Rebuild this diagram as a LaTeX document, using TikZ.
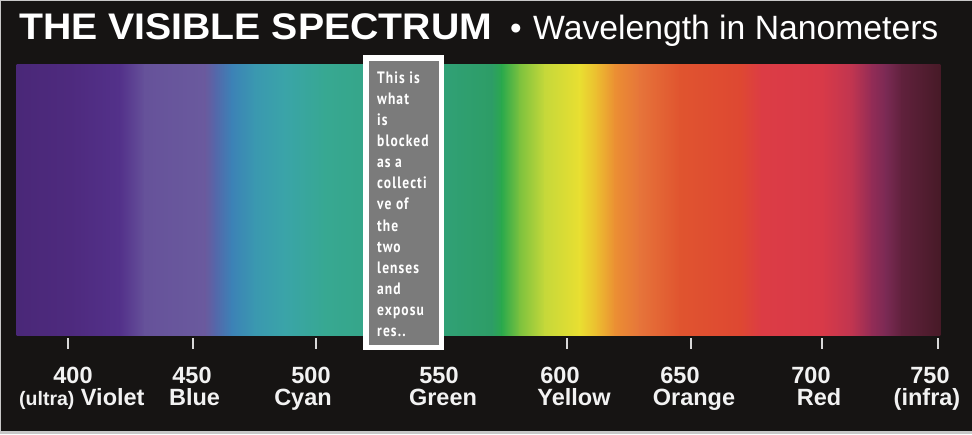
\documentclass[tikz,border=0pt]{standalone}
\usepackage{fontspec}
\setmainfont{Liberation Sans}
\newfontfamily\boxfont[LetterSpace=8]{PT Sans}
\definecolor{bg}{HTML}{161413}
\definecolor{edgecol}{HTML}{C8C8C8}
\definecolor{boxgray}{HTML}{7B7B7B}
\definecolor{labelcol}{HTML}{F2F2F2}
\definecolor{tickcol}{HTML}{D8D8D8}
\definecolor{s0}{HTML}{4A2878}
\definecolor{s1}{HTML}{4E2A7E}
\definecolor{s2}{HTML}{53318A}
\definecolor{s3}{HTML}{66529A}
\definecolor{s4}{HTML}{6A5A9E}
\definecolor{s5}{HTML}{5468AA}
\definecolor{s6}{HTML}{3C82B6}
\definecolor{s7}{HTML}{3A98B0}
\definecolor{s8}{HTML}{3AA4A8}
\definecolor{s9}{HTML}{37A892}
\definecolor{s10}{HTML}{35A586}
\definecolor{s11}{HTML}{30A074}
\definecolor{s12}{HTML}{2D9D66}
\definecolor{s13}{HTML}{2BA94C}
\definecolor{s14}{HTML}{7DC23E}
\definecolor{s15}{HTML}{C6D83A}
\definecolor{s16}{HTML}{E9DF31}
\definecolor{s17}{HTML}{ECBA30}
\definecolor{s18}{HTML}{EB8F33}
\definecolor{s19}{HTML}{E6743A}
\definecolor{s20}{HTML}{E0542F}
\definecolor{s21}{HTML}{DE4832}
\definecolor{s22}{HTML}{DC3C45}
\definecolor{s23}{HTML}{D83A48}
\definecolor{s24}{HTML}{C03550}
\definecolor{s25}{HTML}{922C56}
\definecolor{s26}{HTML}{7A2A54}
\definecolor{s27}{HTML}{60213C}
\definecolor{s28}{HTML}{471A27}
\tikzset{
  numlabel/.style={anchor=base, inner sep=0pt, text=labelcol, font=\fontsize{23.5}{23.5}\selectfont\bfseries},
  namelabel/.style={anchor=base, inner sep=0pt, text=labelcol, font=\fontsize{23.5}{23.5}\selectfont\bfseries},
  tickmark/.style={draw=tickcol, line width=2.6pt},
  boxline/.style={anchor=base west, inner sep=0pt, text=white, font=\boxfont\bfseries\fontsize{16.5}{16.5}\selectfont},
  blockbox/.style={draw=white, line width=5.5pt, fill=boxgray, minimum width=75.5pt, minimum height=289.5pt, inner sep=0pt}
}
\begin{document}
\begin{tikzpicture}[x=1pt,y=1pt]
\useasboundingbox (0,0) rectangle (972,-434);
\fill[edgecol] (0,0) rectangle (972,-434);
\fill[bg] (1,-1) rectangle (972,-431);
% spectrum band
\foreach \a/\ca/\b/\cb in {17/s0/70/s1, 70/s1/120/s2, 120/s2/145/s3, 145/s3/205/s4, 205/s4/216/s5, 216/s5/232/s6, 232/s6/255/s7, 255/s7/285/s8, 285/s8/325/s9, 325/s9/380/s10, 380/s10/450/s11, 450/s11/492/s12, 492/s12/502/s13, 502/s13/520/s14, 520/s14/545/s15, 545/s15/580/s16, 580/s16/598/s17, 598/s17/615/s18, 615/s18/640/s19, 640/s19/680/s20, 680/s20/740/s21, 740/s21/762/s22, 762/s22/822/s23, 822/s23/852/s24, 852/s24/872/s25, 872/s25/886/s26, 886/s26/902/s27, 902/s27/940/s28}
  \fill[left color=\ca, right color=\cb] (\a-0.4,-64) rectangle (\b+0.4,-335);
% title
\node[anchor=base west, inner sep=0pt, text=white, font=\fontsize{37}{37}\selectfont\bfseries] (title) at (19,-39.5) {\scalebox{1.06}[1]{THE VISIBLE SPECTRUM}};
\node[anchor=base, inner sep=0pt, text=white, font=\fontsize{33}{33}\selectfont] (dot) at (516,-39) {\textbullet};
\node[anchor=base west, inner sep=0pt, text=white, font=\fontsize{33.7}{33.7}\selectfont] (sub) at (533,-39) {Wavelength in Nanometers};
% ticks
\foreach \x in {68,193,316,567,691,822,938}
  \draw[tickmark] (\x,-338) -- (\x,-349);
% numbers
\node[numlabel] (n400) at (73,-383) {400};
\node[numlabel] (n450) at (192,-383) {450};
\node[numlabel] (n500) at (311,-383) {500};
\node[numlabel] (n550) at (439,-383) {550};
\node[numlabel] (n600) at (560,-383) {600};
\node[numlabel] (n650) at (680,-383) {650};
\node[numlabel] (n700) at (811,-383) {700};
\node[numlabel] (n750) at (930,-383) {750};
% names
\node[namelabel, anchor=base west] (violet) at (19,-405) {{\fontsize{19.5}{19.5}\selectfont (ultra)} Violet};
\node[namelabel] (blue) at (194.5,-405) {Blue};
\node[namelabel] (cyan) at (303,-405) {Cyan};
\node[namelabel] (green) at (443,-405) {Green};
\node[namelabel] (yellow) at (574,-405) {Yellow};
\node[namelabel] (orange) at (694,-405) {Orange};
\node[namelabel] (red) at (819,-405) {Red};
\node[namelabel] (infra) at (927,-405) {(infra)};
% blocking box
\node[blockbox] (blocker) at (403.5,-202.5) {};
\foreach \t [count=\i] in {This is, what, is, blocked, as a, collecti, ve of, the, two, lenses, and, exposu, res..}
  \node[boxline] (note\i) at (377,{-83.3-21.1*(\i-1)}) {\scalebox{0.82}[1]{\t}};
\end{tikzpicture}
\end{document}
